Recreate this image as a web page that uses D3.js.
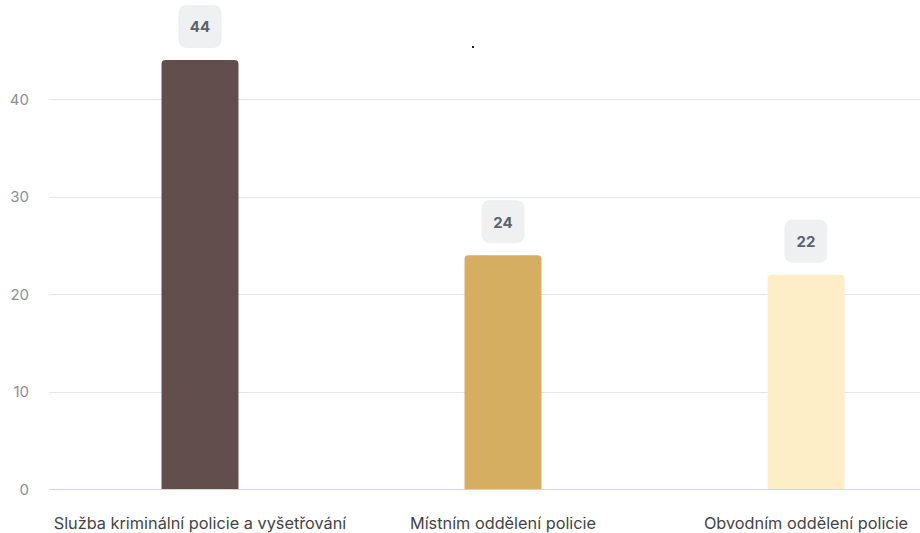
<!DOCTYPE html>
<html><head><meta charset="utf-8">
<script src="https://cdn.jsdelivr.net/npm/d3@7"></script>
<style>body{margin:0;background:#fff}svg{display:block;font-family:Inter,"Noto Sans",sans-serif}</style>
</head><body>
<svg id="c" width="920" height="533"></svg>
<script>
const categories = ["Služba kriminální policie a vyšetřování", "Místním oddělení policie", "Obvodním oddělení policie"];
const values = [44, 24, 22];
const colors = ["#614e4d", "#d5ae62", "#fdeec8"];
const yTicks = [0, 10, 20, 30, 40];

const svg = d3.select("#c");
const y = d3.scaleLinear().domain([0, 40]).range([489.5, 99]);
const x = d3.scaleBand().domain(categories).range([48.5, 957.5]).paddingInner(0.746).paddingOuter(0.373);

// grid
svg.append("g").selectAll("line").data(yTicks.filter(d => d > 0)).join("line")
  .attr("x1", 49).attr("x2", 920).attr("y1", d => Math.round(y(d)) + 0.5).attr("y2", d => Math.round(y(d)) + 0.5)
  .attr("stroke", "#e6e6e6").attr("stroke-width", 1);

// y labels
svg.append("g").selectAll("text").data(yTicks).join("text")
  .attr("x", 29).attr("y", d => y(d) + 5.5).attr("text-anchor", "end")
  .attr("font-size", 15).attr("fill", "#8a8f98").text(d => d);

// bars with rounded top
const r = 4;
svg.append("g").selectAll("path").data(values).join("path")
  .attr("fill", (d, i) => colors[i])
  .attr("d", (d, i) => {
    const x0 = x(categories[i]), w = x.bandwidth(), y0 = y(d), yb = y(0);
    return `M${x0},${yb}V${y0 + r}Q${x0},${y0} ${x0 + r},${y0}H${x0 + w - r}Q${x0 + w},${y0} ${x0 + w},${y0 + r}V${yb}Z`;
  });

// baseline
svg.append("line").attr("x1", 49).attr("x2", 920).attr("y1", 489.5).attr("y2", 489.5)
  .attr("stroke", "#ccd6eb").attr("stroke-width", 1);

// value labels
const lab = svg.append("g").selectAll("g").data(values).join("g")
  .attr("transform", (d, i) => `translate(${x(categories[i]) + x.bandwidth() / 2},${y(d) - 33})`);
lab.append("rect").attr("x", -21.5).attr("y", -22).attr("width", 43).attr("height", 43).attr("rx", 8)
  .attr("fill", "#eef0f1");
lab.append("text").attr("text-anchor", "middle").attr("y", 5.5).attr("font-size", 15).attr("font-weight", 700)
  .attr("fill", "#5a6270").text(d => d);

// category labels
svg.append("g").selectAll("text").data(categories).join("text")
  .attr("x", d => x(d) + x.bandwidth() / 2).attr("y", 529).attr("text-anchor", "middle")
  .attr("font-size", 16.3).attr("fill", "#444").text(d => d);

// title dot
svg.append("rect").attr("x", 472).attr("y", 46).attr("width", 2).attr("height", 2).attr("fill", "#222");
</script>
</body></html>
